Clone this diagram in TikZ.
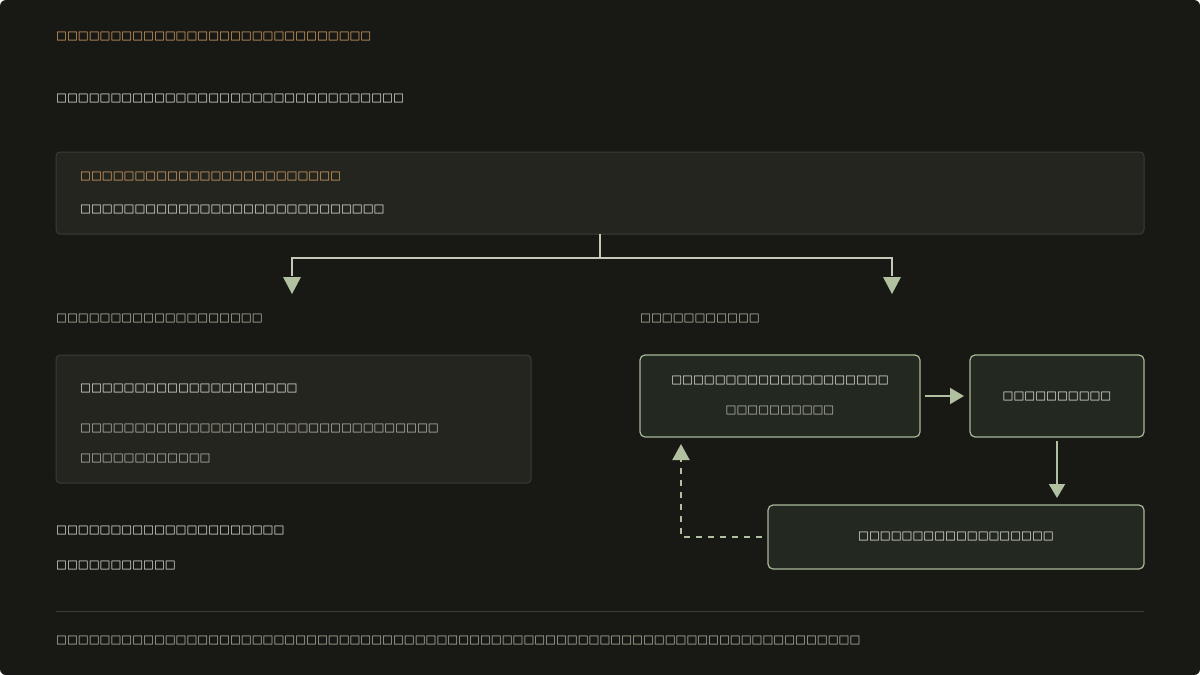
\documentclass[tikz,border=0pt]{standalone}
\usepackage{fontspec}
\setmainfont{DejaVu Sans}
\usetikzlibrary{arrows.meta}
\newcommand\tf[1]{\foreach\i in {1,...,#1}{□}}
\definecolor{bg}{HTML}{181814}
\definecolor{cardf}{HTML}{252520}
\definecolor{cardb}{HTML}{3C3C36}
\definecolor{gf}{HTML}{232820}
\definecolor{gb}{HTML}{A8B898}
\definecolor{ac}{HTML}{B0C0A0}
\definecolor{orng}{HTML}{E8B070}
\definecolor{gry}{HTML}{C8C8B8}
\definecolor{wht}{HTML}{F4F4EC}
\begin{document}
\begin{tikzpicture}[x=1pt,y=-1pt,
 t/.style={anchor=west,inner sep=0pt,font=\fontsize{11.5}{12}\selectfont,text=wht},
 tc/.style={inner sep=0pt,font=\fontsize{11.5}{12}\selectfont,text=wht},
 card/.style={draw=cardb,fill=cardf,rounded corners=4pt,line width=1pt},
 gbox/.style={draw=gb,fill=gf,rounded corners=5pt,line width=1.2pt},
 arr/.style={draw=ac,line width=2pt,-{Triangle[length=14pt,width=16pt]}}]
\useasboundingbox (0,0) rectangle (1200,675);
\fill[bg,rounded corners=6pt] (0,0) rectangle (1200,675);
\node[t,text=orng] (title) at (56,37) {\tf{29}};
\node[t] (sub) at (56,99) {\tf{32}};
\draw[card] (56,152) rectangle (1144,234);
\coordinate (topc) at (600,234);
\node[t,text=orng] (h1) at (80,177) {\tf{24}};
\node[t] (h2) at (80,210) {\tf{28}};
\coordinate (la) at (292,294);
\coordinate (ra) at (892,294);
\draw[gry,line width=2pt] (topc) -- (600,258) -| (292,276);
\draw[gry,line width=2pt] (600,258) -| (892,276);
\fill[ac] (283,277) -- (301,277) -- (292,294) -- cycle;
\fill[ac] (883,277) -- (901,277) -- (892,294) -- cycle;
\node[t,text=gry] (lh) at (56,319) {\tf{19}};
\node[t,text=gry] (rh) at (640,319) {\tf{11}};
\draw[card] (56,355) rectangle (531,483);
\node[t] (c1) at (80,389) {\tf{20}};
\node[t,text=gry] (c2) at (80,429) {\tf{33}};
\node[t,text=gry] (c3) at (80,459) {\tf{12}};
\node[t] (n1) at (56,531) {\tf{21}};
\node[t] (n2) at (56,566) {\tf{11}};
\draw[gbox] (640,355) rectangle (920,437);
\node[tc] (a1) at (780,381) {\tf{20}};
\node[tc,text=gry] (a2) at (780,411) {\tf{10}};
\draw[gbox] (970,355) rectangle (1144,437);
\node[tc] (b1) at (1057,397) {\tf{10}};
\draw[gbox] (768,505) rectangle (1144,569);
\node[tc] (d1) at (956,537) {\tf{18}};
\coordinate (A) at (925,396); \coordinate (B) at (964,396);
\draw[arr] (A) -- (B);
\coordinate (C) at (1057,441); \coordinate (D) at (1057,498);
\draw[arr] (C) -- (D);
\coordinate (E) at (762,537); \coordinate (F) at (681,444);
\draw[ac,line width=2pt,dash pattern=on 6pt off 6pt,-{Triangle[length=16pt,width=17pt]}] (E) -| (F);
\draw[cardb,line width=1pt] (56,611) -- (1144,611);
\node[t,text=gry] (foot) at (56,641) {\tf{74}};
\end{tikzpicture}
\end{document}
